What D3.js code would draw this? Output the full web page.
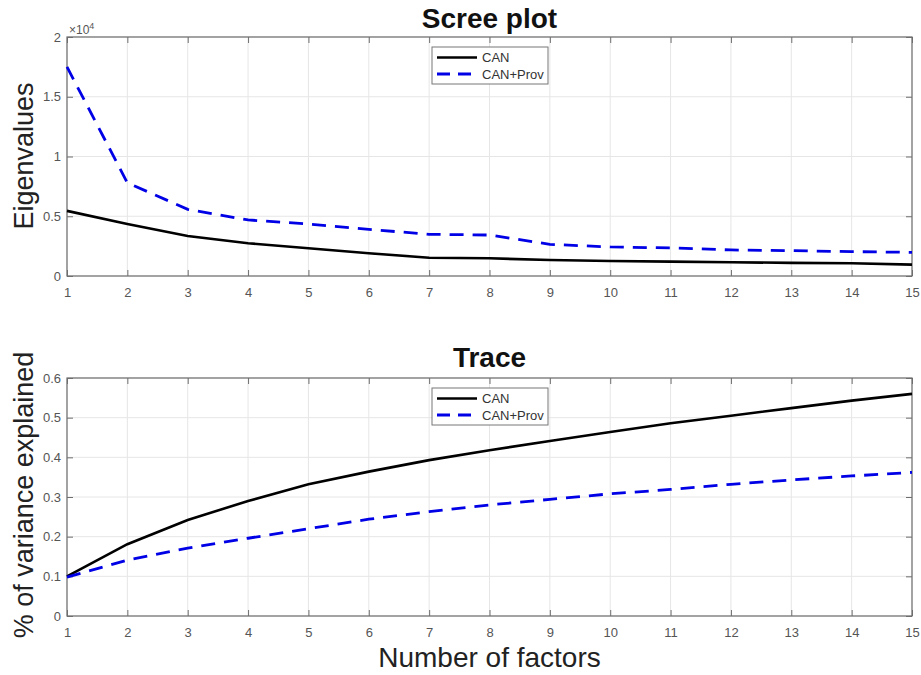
<!DOCTYPE html>
<html>
<head>
<meta charset="utf-8">
<script src="https://cdn.jsdelivr.net/npm/d3@7"></script>
<style>
  html, body { margin: 0; padding: 0; background: #fff; }
  svg { display: block; font-family: "Liberation Sans", Arial, Helvetica, sans-serif; }
</style>
</head>
<body>
<svg id="chart" width="921" height="675"></svg>
<script>
// Number of retained factors
const factors = [1, 2, 3, 4, 5, 6, 7, 8, 9, 10, 11, 12, 13, 14, 15];

// Scree plot: eigenvalues per factor
const screeCAN     = [5450, 4350, 3350, 2740, 2320, 1900, 1530, 1480, 1340, 1260, 1200, 1150, 1100, 1070, 950];
const screeCANProv = [17500, 7800, 5580, 4690, 4350, 3900, 3490, 3430, 2650, 2430, 2350, 2180, 2120, 2040, 1980];

// Trace: cumulative share of variance explained
const traceCAN     = [0.100, 0.181, 0.242, 0.290, 0.332, 0.364, 0.393, 0.418, 0.441, 0.464, 0.486, 0.505, 0.524, 0.543, 0.560];
const traceCANProv = [0.098, 0.141, 0.171, 0.196, 0.220, 0.244, 0.263, 0.280, 0.294, 0.308, 0.319, 0.332, 0.343, 0.353, 0.362];

const seriesNames = ["CAN", "CAN+Prov"];
const screeTicks = [0, 0.5, 1, 1.5, 2];           // in units of 10^4
const traceTicks = [0, 0.1, 0.2, 0.3, 0.4, 0.5, 0.6];

const svg = d3.select("#chart");
const left = 67, right = 912;

const x = d3.scaleLinear().domain([1, 15]).range([left, right]);

function panel(opts) {
  const { top, bottom, yDomain, yTicks, yFormat, title, titleY, ylabel, ylabelY, s1, s2, exponent } = opts;
  const y = d3.scaleLinear().domain(yDomain).range([bottom, top]);
  const g = svg.append("g");

  // grid
  g.append("g").selectAll("line").data(factors).join("line")
    .attr("x1", d => x(d)).attr("x2", d => x(d))
    .attr("y1", top).attr("y2", bottom)
    .attr("stroke", "#e6e6e6").attr("stroke-width", 1);
  g.append("g").selectAll("line").data(yTicks).join("line")
    .attr("x1", left).attr("x2", right)
    .attr("y1", d => y(d)).attr("y2", d => y(d))
    .attr("stroke", "#e6e6e6").attr("stroke-width", 1);

  // axes with inward ticks
  const tk = 6;
  const xb = g.append("g").attr("transform", `translate(0,${bottom})`)
    .call(d3.axisBottom(x).tickValues(factors).tickFormat(d3.format("d")).tickSizeInner(-tk).tickSizeOuter(0).tickPadding(12));
  const xt = g.append("g").attr("transform", `translate(0,${top})`)
    .call(d3.axisTop(x).tickValues(factors).tickFormat("").tickSizeInner(-tk).tickSizeOuter(0));
  const yl = g.append("g").attr("transform", `translate(${left},0)`)
    .call(d3.axisLeft(y).tickValues(yTicks).tickFormat(yFormat).tickSizeInner(-tk).tickSizeOuter(0).tickPadding(6));
  const yr = g.append("g").attr("transform", `translate(${right},0)`)
    .call(d3.axisRight(y).tickValues(yTicks).tickFormat("").tickSizeInner(-tk).tickSizeOuter(0));
  [xb, xt, yl, yr].forEach(a => {
    a.select(".domain").remove();
    a.selectAll(".tick line").attr("stroke", "#6e6e6e");
    a.selectAll("text").attr("fill", "#555").style("font-size", "13px")
      .style("font-family", "'Liberation Sans', Arial, sans-serif");
  });
  xb.selectAll("text").attr("dy", "0.71em");

  // frame
  g.append("rect").attr("x", left).attr("y", top)
    .attr("width", right - left).attr("height", bottom - top)
    .attr("fill", "none").attr("stroke", "#6e6e6e").attr("stroke-width", 1.2);

  if (exponent) {
    const t = g.append("text").attr("x", left + 2).attr("y", top - 3)
      .attr("fill", "#555").style("font-size", "12px");
    t.append("tspan").text("\u00d710");
    t.append("tspan").attr("dy", -5).style("font-size", "9px").text(exponent);
  }

  const line = d3.line().x((d, i) => x(factors[i])).y(d => y(d));
  g.append("path").datum(s1).attr("d", line)
    .attr("fill", "none").attr("stroke", "#000").attr("stroke-width", 2.6);
  g.append("path").datum(s2).attr("d", line)
    .attr("fill", "none").attr("stroke", "#0000e6").attr("stroke-width", 2.8)
    .attr("stroke-dasharray", "14,9");

  // legend
  const lx = 432, ly = top + 10, lw = 116, lh = 37;
  const lg = g.append("g");
  lg.append("rect").attr("x", lx).attr("y", ly).attr("width", lw).attr("height", lh)
    .attr("fill", "#fff").attr("stroke", "#777").attr("stroke-width", 1);
  const entries = [
    { name: seriesNames[0], color: "#000", dash: null, w: 2.6 },
    { name: seriesNames[1], color: "#0000e6", dash: "13,8", w: 2.8 }
  ];
  entries.forEach((e, i) => {
    const yy = ly + 10.5 + i * 16.5;
    lg.append("line").attr("x1", lx + 5).attr("x2", lx + 45).attr("y1", yy).attr("y2", yy)
      .attr("stroke", e.color).attr("stroke-width", e.w).attr("stroke-dasharray", e.dash);
    lg.append("text").attr("x", lx + 50).attr("y", yy).attr("dy", "0.35em")
      .attr("fill", "#333").style("font-size", "13px").text(e.name);
  });

  // title
  svg.append("text").attr("x", (left + right) / 2).attr("y", titleY)
    .attr("text-anchor", "middle").attr("font-weight", "bold")
    .style("font-size", "28px").attr("fill", "#111").text(title);

  // y label
  svg.append("text").attr("transform", `translate(33,${ylabelY}) rotate(-90)`)
    .attr("text-anchor", "middle").style("font-size", "27px").attr("fill", "#222").text(ylabel);
}

panel({
  top: 37, bottom: 276, yDomain: [0, 2], yTicks: screeTicks,
  yFormat: d => d3.format("")(d),
  title: "Scree plot", titleY: 28, ylabel: "Eigenvalues", ylabelY: 156,
  s1: screeCAN.map(v => v / 1e4), s2: screeCANProv.map(v => v / 1e4), exponent: "4"
});

panel({
  top: 378, bottom: 616, yDomain: [0, 0.6], yTicks: traceTicks,
  yFormat: d => d3.format("")(d),
  title: "Trace", titleY: 367, ylabel: "% of variance explained", ylabelY: 495,
  s1: traceCAN, s2: traceCANProv, exponent: null
});

svg.append("text").attr("x", (left + right) / 2).attr("y", 667)
  .attr("text-anchor", "middle").style("font-size", "28px").attr("fill", "#222")
  .text("Number of factors");
</script>
</body>
</html>
